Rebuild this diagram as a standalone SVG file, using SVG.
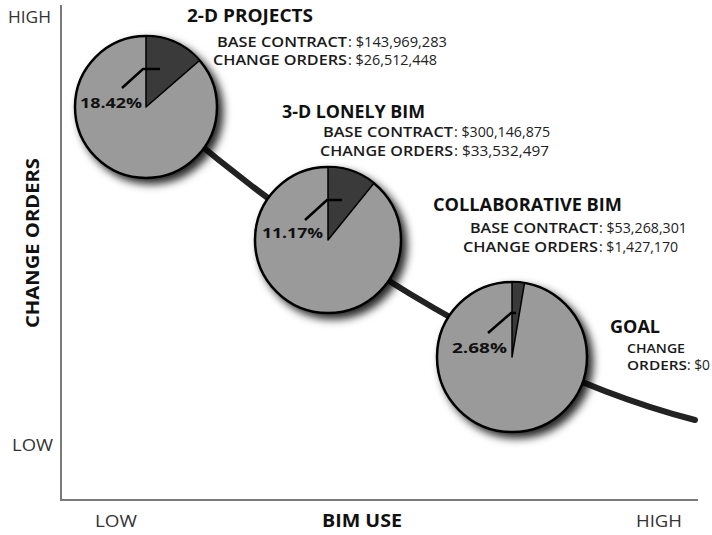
<svg xmlns="http://www.w3.org/2000/svg" width="712" height="535" viewBox="0 0 712 535">
<defs>
<filter id="sh" x="-30%" y="-30%" width="170%" height="170%">
<feDropShadow dx="5" dy="5" stdDeviation="4" flood-color="#000" flood-opacity="0.85"/>
</filter>
<style>
text{font-family:"Open Sans","Noto Sans","Liberation Sans",sans-serif;fill:#111}
.ax{font-size:17px;fill:#333;font-weight:400}
.axb{font-size:17px;font-weight:700}
.ttl{font-size:17px;font-weight:700}
.lbl{font-size:14px;font-weight:600;fill:#1a1a1a}
.val{font-size:14px;font-weight:400;fill:#222}
.pct{font-size:15px;font-weight:700}
.pie{fill:#9a9a9a;stroke:#000;stroke-width:2.5}
.sl{fill:#3a3a3a;stroke:#000;stroke-width:1.5;stroke-linejoin:round}
.ld{fill:none;stroke:#000;stroke-width:2.5}
.axis{stroke:#7a7a7a;stroke-width:2;fill:none}
</style>
</defs>
<rect width="712" height="535" fill="#fff"/>
<g id="axes">
<path class="axis" d="M61 5 V500 H698"/>
<text class="ax" x="8" y="23" textLength="43" lengthAdjust="spacingAndGlyphs">HIGH</text>
<text class="ax" x="12" y="451" textLength="41" lengthAdjust="spacingAndGlyphs">LOW</text>
<text class="axb" transform="translate(39 243) rotate(-90)" text-anchor="middle" textLength="170" lengthAdjust="spacingAndGlyphs">CHANGE ORDERS</text>
<text class="ax" x="95" y="527" textLength="42" lengthAdjust="spacingAndGlyphs">LOW</text>
<text class="axb" x="322" y="527" textLength="80" lengthAdjust="spacingAndGlyphs">BIM USE</text>
<text class="ax" x="636" y="527" textLength="46" lengthAdjust="spacingAndGlyphs">HIGH</text>
</g>
<g id="connectors">
<path d="M180 128 C300 230 500 370 695 420" fill="none" stroke="#222" stroke-width="6" stroke-linecap="round"/>
</g>
<g id="pie-2d">
<circle class="pie" cx="146" cy="107" r="71" filter="url(#sh)"/>
<path class="sl" d="M146 107 V36 A71 71 0 0 1 199.6 60.4 Z"/>
<polyline class="ld" points="122,88 143,69 160,69"/>
<text class="pct" x="80" y="108" textLength="62" lengthAdjust="spacingAndGlyphs">18.42%</text>
<text class="ttl" x="187" y="22" textLength="126" lengthAdjust="spacingAndGlyphs">2-D PROJECTS</text>
<text class="lbl" x="347" y="47" text-anchor="end" textLength="130" lengthAdjust="spacingAndGlyphs">BASE CONTRACT</text>
<text class="val" x="348" y="47" textLength="99" lengthAdjust="spacingAndGlyphs">: $143,969,283</text>
<text class="lbl" x="347" y="65" text-anchor="end" textLength="134" lengthAdjust="spacingAndGlyphs">CHANGE ORDERS</text>
<text class="val" x="348" y="65" textLength="89" lengthAdjust="spacingAndGlyphs">: $26,512,448</text>
</g>
<g id="pie-3d">
<circle class="pie" cx="328" cy="240" r="73" filter="url(#sh)"/>
<path class="sl" d="M328 240 V167 A73 73 0 0 1 373.9 183.3 Z"/>
<polyline class="ld" points="305,220 327,200 342,200"/>
<text class="pct" x="262" y="238" textLength="61" lengthAdjust="spacingAndGlyphs">11.17%</text>
<text class="ttl" x="282" y="118" textLength="143" lengthAdjust="spacingAndGlyphs">3-D LONELY BIM</text>
<text class="lbl" x="453" y="137" text-anchor="end" textLength="130" lengthAdjust="spacingAndGlyphs">BASE CONTRACT</text>
<text class="val" x="454" y="137" textLength="96" lengthAdjust="spacingAndGlyphs">: $300,146,875</text>
<text class="lbl" x="453" y="156" text-anchor="end" textLength="133" lengthAdjust="spacingAndGlyphs">CHANGE ORDERS</text>
<text class="val" x="454" y="156" textLength="95" lengthAdjust="spacingAndGlyphs">: $33,532,497</text>
</g>
<g id="pie-collab">
<circle class="pie" cx="512" cy="357" r="75" filter="url(#sh)"/>
<path class="sl" d="M512 357 V282 A75 75 0 0 1 524.5 283.1 Z"/>
<polyline class="ld" points="488,333 511,313 516,313"/>
<text class="pct" x="452" y="353" textLength="55" lengthAdjust="spacingAndGlyphs">2.68%</text>
<text class="ttl" x="433" y="211" textLength="189" lengthAdjust="spacingAndGlyphs">COLLABORATIVE BIM</text>
<text class="lbl" x="598" y="233" text-anchor="end" textLength="128" lengthAdjust="spacingAndGlyphs">BASE CONTRACT</text>
<text class="val" x="599" y="233" textLength="88" lengthAdjust="spacingAndGlyphs">: $53,268,301</text>
<text class="lbl" x="598" y="252" text-anchor="end" textLength="135" lengthAdjust="spacingAndGlyphs">CHANGE ORDERS</text>
<text class="val" x="599" y="252" textLength="79" lengthAdjust="spacingAndGlyphs">: $1,427,170</text>
</g>
<g id="goal">
<text class="ttl" x="610" y="333" textLength="50" lengthAdjust="spacingAndGlyphs">GOAL</text>
<text class="lbl" x="627" y="353" style="font-size:13px" textLength="58" lengthAdjust="spacingAndGlyphs">CHANGE</text>
<text class="lbl" x="627" y="370" style="font-size:13px" textLength="60" lengthAdjust="spacingAndGlyphs">ORDERS</text>
<text class="val" x="687" y="370" textLength="23" lengthAdjust="spacingAndGlyphs">: $0</text>
</g>
</svg>
